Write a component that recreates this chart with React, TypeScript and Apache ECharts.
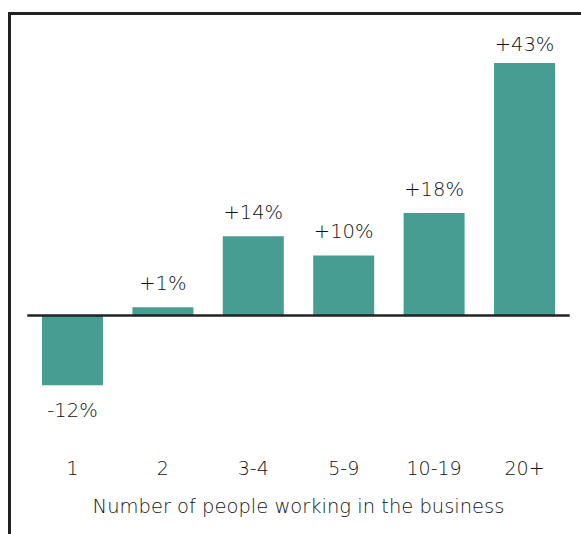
import React, { useEffect, useRef } from "react";
import * as echarts from "echarts";

const categories = ["1", "2", "3-4", "5-9", "10-19", "20+"];
const values = [-12.0, 1.4, 13.6, 10.3, 17.6, 43.4];
const valueLabels = ["-12%", "+1%", "+14%", "+10%", "+18%", "+43%"];
const axisTitle = "Number of people working in the business";

const FONT = "'DejaVu Sans', sans-serif";
const WEIGHT = 300;
const TEXT = "#111111";
const BAR = "#489d92";
const LINE = "#222222";

export default function App() {
  const ref = useRef<HTMLDivElement>(null);
  useEffect(() => {
    document.body.style.margin = "0";
    const chart = echarts.init(ref.current!, null, { renderer: "svg" });
    chart.setOption({
      animation: false,
      grid: { left: 27.3, right: 11.3, top: 53.6, bottom: 131.2 },
      xAxis: {
        type: "category",
        data: categories,
        axisLine: { show: false },
        axisTick: { show: false },
        axisLabel: { color: TEXT, fontFamily: FONT, fontWeight: WEIGHT, fontSize: 19, margin: 56 },
        name: axisTitle,
        nameLocation: "middle",
        nameGap: 94,
        nameTextStyle: { color: TEXT, fontFamily: FONT, fontWeight: WEIGHT, fontSize: 19.5 },
      },
      yAxis: {
        type: "value",
        min: -15,
        max: 45,
        show: false,
        splitLine: { show: false },
      },
      series: [
        {
          type: "bar",
          barWidth: 61,
          data: values.map((v, i) => ({
            value: v,
            label: {
              show: true,
              position: v < 0 ? "bottom" : "top",
              distance: i === values.length - 1 ? 8 : v < 0 ? 15 : 14,
              formatter: valueLabels[i],
              color: TEXT,
              fontFamily: FONT,
              fontWeight: WEIGHT,
              fontSize: 19.5,
            },
          })),
          itemStyle: { color: BAR },
          markLine: {
            silent: true,
            symbol: "none",
            label: { show: false },
            lineStyle: { color: LINE, width: 2.5, type: "solid" },
            data: [{ yAxis: 0 }],
          },
        },
      ],
      graphic: [
        {
          type: "polyline",
          shape: { points: [[9.5, 534], [9.5, 13.5], [581, 13.5]] },
          style: { stroke: LINE, lineWidth: 3, fill: "none" },
          z: 10,
        },
      ],
    });
    return () => chart.dispose();
  }, []);
  return <div ref={ref} style={{ width: 581, height: 534 }} />;
}
